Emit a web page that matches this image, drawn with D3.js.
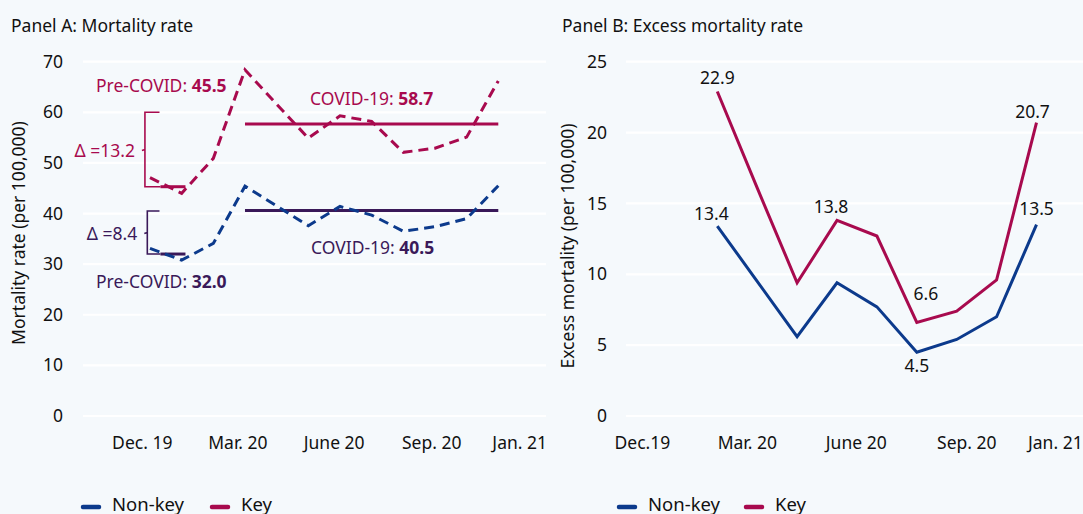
<!DOCTYPE html>
<html>
<head>
<meta charset="utf-8">
<script src="https://cdn.jsdelivr.net/npm/d3@7"></script>
<style>
  body { margin: 0; background: #f5f9fc; }
  svg { display: block; font-family: "Noto Sans", sans-serif; }
  .tick text { fill: #111; }
</style>
</head>
<body>
<svg id="chart" width="1083" height="514"></svg>
<script>
// month index: 0 = Dec. 2019
let monthsA = [0, 1, 2, 3, 4, 5, 6, 7, 8, 9, 10, 11];
let keyRate = [47.1, 44.0, 50.9, 68.4, 61.6, 54.9, 59.3, 58.2, 52.1, 52.9, 55.1, 66.2];
let nonKeyRate = [33.1, 30.8, 34.1, 45.4, 41.5, 37.6, 41.4, 39.7, 36.5, 37.4, 39.0, 45.5];

let monthsB = [3, 4, 5, 6, 7, 8, 9, 10, 11];
let keyExcess = [22.9, 16.1, 9.4, 13.8, 12.7, 6.6, 7.4, 9.6, 20.7];
let nonKeyExcess = [13.4, 9.5, 5.6, 9.4, 7.7, 4.5, 5.4, 7.0, 13.5];

let tickLabelsA = ["Dec. 19", "Mar. 20", "June 20", "Sep. 20", "Jan. 21"];
let tickLabelsB = ["Dec.19", "Mar. 20", "June 20", "Sep. 20", "Jan. 21"];
let tickPosA = [-0.26, 2.76, 5.8, 8.88, 11.66];
let tickPosB = [1.11, 3.74, 6.47, 9.24, 11.46];
let yTicksA = [0, 10, 20, 30, 40, 50, 60, 70];
let yTicksB = [0, 5, 10, 15, 20, 25];

// averages: [non-key, key]
let preCovid = [32.0, 45.5];
let covid = [40.5, 58.7];
let covidLineLevel = [40.6, 57.7];
let preLineLevel = [32.0, 45.3];
let deltas = [8.4, 13.2];
let bracketTop = [40.5, 60.0];

// which points of panel B carry a value label
let labelIdxKey = [0, 3, 5, 8];
let labelIdxNonKey = [0, 5, 8];

let keyColor = "#a80a4e";
let nonKeyColor = "#0c3a8c";
let purple = "#3a1959";

let svg = d3.select("#chart");
svg.append("rect").attr("width", 1083).attr("height", 514).attr("fill", "#f5f9fc");

let xA = d3.scaleLinear().domain([0, 11]).range([150, 498.3]);
let yA = d3.scaleLinear().domain([0, 70]).range([416, 61.7]);
let xB = d3.scaleLinear().domain([3, 11]).range([717.3, 1036.5]);
let yB = d3.scaleLinear().domain([0, 25]).range([416, 61.7]);

// titles
svg.append("text").attr("x", 11).attr("y", 31.5).attr("font-size", 17.5).attr("fill", "#111")
   .text("Panel A: Mortality rate");
svg.append("text").attr("x", 562).attr("y", 31.5).attr("font-size", 17.5).attr("fill", "#111")
   .text("Panel B: Excess mortality rate");

// gridlines
let drawGrid = (ticks, y, x0, x1) => {
  svg.append("g").selectAll("line").data(ticks).enter().append("line")
     .attr("x1", x0).attr("x2", x1)
     .attr("y1", d => y(d)).attr("y2", d => y(d))
     .attr("stroke", "#ffffff").attr("stroke-width", 2.2);
};
drawGrid(yTicksA, yA, 83, 546);
drawGrid(yTicksB, yB, 626, 1083);

// axes
let styleAxis = g => {
  g.select(".domain").remove();
  g.selectAll(".tick line").remove();
  g.selectAll("text").attr("font-size", 17.5).attr("font-family", "Noto Sans, sans-serif");
};
svg.append("g").attr("transform", "translate(83,0)")
   .call(d3.axisLeft(yA).tickValues(yTicksA).tickSize(0).tickPadding(20))
   .call(styleAxis);
svg.append("g").attr("transform", "translate(626,0)")
   .call(d3.axisLeft(yB).tickValues(yTicksB).tickSize(0).tickPadding(19))
   .call(styleAxis);
svg.append("g").attr("transform", "translate(0,416)")
   .call(d3.axisBottom(xA).tickValues(tickPosA).tickFormat((d, i) => tickLabelsA[i]).tickSize(0).tickPadding(21))
   .call(styleAxis);
svg.append("g").attr("transform", "translate(0,416)")
   .call(d3.axisBottom(xB).tickValues(tickPosB).tickFormat((d, i) => tickLabelsB[i]).tickSize(0).tickPadding(21))
   .call(styleAxis);

// y axis titles
svg.append("text").attr("transform", "translate(25,233) rotate(-90)").attr("text-anchor", "middle")
   .attr("font-size", 17.5).attr("fill", "#111").text("Mortality rate (per 100,000)");
svg.append("text").attr("transform", "translate(574,246) rotate(-90)").attr("text-anchor", "middle")
   .attr("font-size", 17.5).attr("fill", "#111").text("Excess mortality (per 100,000)");

// panel A: average lines
[0, 1].forEach(i => {
  let c = i === 1 ? keyColor : purple;
  svg.append("line").attr("x1", xA(0.33)).attr("x2", xA(1.12))
     .attr("y1", yA(preLineLevel[i])).attr("y2", yA(preLineLevel[i]))
     .attr("stroke", c).attr("stroke-width", 3);
  svg.append("line").attr("x1", xA(3)).attr("x2", xA(11))
     .attr("y1", yA(covidLineLevel[i])).attr("y2", yA(covidLineLevel[i]))
     .attr("stroke", c).attr("stroke-width", 3);
});

// panel A: dashed series
let lineA = d3.line().x((d, i) => xA(monthsA[i])).y(d => yA(d));
svg.append("path").attr("d", lineA(nonKeyRate)).attr("fill", "none")
   .attr("stroke", nonKeyColor).attr("stroke-width", 3).attr("stroke-dasharray", "10,6");
svg.append("path").attr("d", lineA(keyRate)).attr("fill", "none")
   .attr("stroke", keyColor).attr("stroke-width", 3).attr("stroke-dasharray", "10,6");

// brackets
let bracketX = [-0.085, -0.16];
[0, 1].forEach(i => {
  let c = i === 1 ? keyColor : purple;
  let bx = xA(bracketX[i]);
  let top = yA(bracketTop[i]);
  let bot = yA(preLineLevel[i]);
  let mid = (top + bot) / 2;
  svg.append("path")
     .attr("d", `M${xA(0.3)},${top} H${bx} V${bot} H${xA(0.33)} M${bx},${mid} l-3,1`)
     .attr("fill", "none").attr("stroke", c).attr("stroke-width", 1.6);
  svg.append("text").attr("x", bx - 10).attr("y", mid + 7).attr("text-anchor", "end")
     .attr("font-size", 17.5).attr("fill", c).text("Δ =" + deltas[i].toFixed(1));
});

// panel A annotations
let annot = (x, y, c, label, value) => {
  let t = svg.append("text").attr("x", x).attr("y", y).attr("font-size", 17.5).attr("fill", c);
  t.append("tspan").text(label);
  t.append("tspan").attr("font-weight", "bold").text(value.toFixed(1));
};
annot(96, yA(preCovid[1]) - 94, keyColor, "Pre-COVID: ", preCovid[1]);
annot(310, yA(covid[1]) - 14, keyColor, "COVID-19: ", covid[1]);
annot(96, yA(preCovid[0]) + 34, purple, "Pre-COVID: ", preCovid[0]);
annot(311, yA(covid[0]) + 43, purple, "COVID-19: ", covid[0]);

// panel B lines
let lineB = d3.line().x((d, i) => xB(monthsB[i])).y(d => yB(d));
svg.append("path").attr("d", lineB(nonKeyExcess)).attr("fill", "none")
   .attr("stroke", nonKeyColor).attr("stroke-width", 3);
svg.append("path").attr("d", lineB(keyExcess)).attr("fill", "none")
   .attr("stroke", keyColor).attr("stroke-width", 3);

// panel B value labels
let valueLabel = (i, values, dx, dy) => {
  svg.append("text").attr("x", xB(monthsB[i]) + dx).attr("y", yB(values[i]) + dy)
     .attr("text-anchor", "middle").attr("font-size", 17.5).attr("fill", "#111")
     .text(values[i].toFixed(1));
};
let keyOffsets = [[0, -7], [-6, -7], [9, -22], [-4, -5]];
let nonKeyOffsets = [[-6, -6], [0, 20], [0, -10]];
labelIdxKey.forEach((idx, k) => valueLabel(idx, keyExcess, keyOffsets[k][0], keyOffsets[k][1]));
labelIdxNonKey.forEach((idx, k) => valueLabel(idx, nonKeyExcess, nonKeyOffsets[k][0], nonKeyOffsets[k][1]));

// legends
let legendItems = [["Non-key", nonKeyColor], ["Key", keyColor]];
let legendX = [[83, 212], [619, 746]];
legendX.forEach(xs => {
  legendItems.forEach((item, i) => {
    svg.append("line").attr("x1", xs[i]).attr("x2", xs[i] + 16).attr("y1", 507).attr("y2", 507)
       .attr("stroke", item[1]).attr("stroke-width", 4.5).attr("stroke-linecap", "round");
    svg.append("text").attr("x", xs[i] + 29).attr("y", 511).attr("font-size", 18.5).attr("fill", "#111")
       .text(item[0]);
  });
});
</script>
</body>
</html>
